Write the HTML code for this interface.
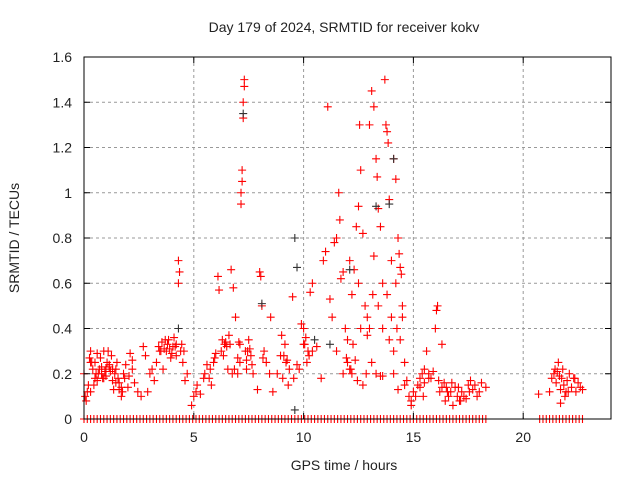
<!DOCTYPE html>
<html><head><meta charset="utf-8"><style>
body{margin:0;background:#fff;font-family:"Liberation Sans",sans-serif}
svg text{font-family:"Liberation Sans",sans-serif;font-size:14px;fill:#222}
</style></head><body>
<svg id="chart" width="640" height="480">
<text x="344" y="32" text-anchor="middle">Day 179 of 2024, SRMTID for receiver kokv</text>
<text x="344" y="470" text-anchor="middle">GPS time / hours</text>
<text transform="translate(19,238) rotate(-90)" text-anchor="middle">SRMTID / TECUs</text>
<g id="grid"></g><g id="marks"></g><g id="axes"></g>
</svg>
<script>
const xTicks=[0,5,10,15,20];
const yTicks=[0,0.2,0.4,0.6,0.8,1,1.2,1.4,1.6];
const yTickLabels=["0","0.2","0.4","0.6","0.8","1","1.2","1.4","1.6"];
const redX=[0,0.05,0.1,0.2,0.25,0.3,0.35,0.4,0.45,0.5,0.55,0.6,0.7,0.75,0.8,0.9,0.95,1.0,1.05,1.1,1.2,1.25,1.3,1.35,1.4,1.5,1.55,1.6,1.7,1.8,1.9,2.0,2.1,2.2,2.3,2.6,2.7,2.8,2.9,3.0,3.1,3.2,3.4,3.5,3.6,3.7,3.8,3.9,4.0,4.1,4.2,4.3,4.3,4.35,4.4,4.5,4.6,4.7,4.9,5.0,5.1,5.3,5.5,5.6,5.7,5.8,5.9,6.0,6.1,6.15,6.3,6.4,6.5,6.6,6.7,6.8,6.9,7.0,7.1,7.15,7.15,7.2,7.2,7.25,7.25,7.3,7.3,7.35,7.4,7.5,7.6,7.7,7.9,8.0,8.05,8.1,8.2,8.3,8.5,8.6,8.8,9.0,9.1,9.2,9.3,9.5,9.7,9.8,10.0,10.1,10.2,10.3,10.4,10.6,10.8,10.9,11.0,11.1,11.2,11.3,11.4,11.5,11.6,11.65,11.7,11.8,11.9,12.0,12.1,12.2,12.3,12.4,12.5,12.55,12.6,12.7,12.8,12.9,13.0,13.1,13.2,13.3,13.35,13.4,13.5,13.6,13.7,13.75,13.8,13.85,13.9,14.0,14.1,14.2,14.3,14.35,14.4,14.5,14.6,14.7,14.8,14.9,15.0,15.2,15.4,15.5,15.6,15.8,16.0,16.05,16.1,16.2,16.4,16.5,16.6,16.8,16.9,17.0,17.2,17.4,17.5,17.7,17.9,18.1,18.3,20.7,21.2,21.4,21.5,21.6,21.7,21.8,21.9,22.0,22.1,22.2,22.4,22.5,22.6,
12.0,12.2,12.5,13.0,13.2,13.4,13.6,13.8,14.0,14.2,14.4,14.5,13.3,12.7,11.5,11.8,13.6,14.1,0.15,0.3,0.6,0.85,1.15,1.45,1.75,2.05,3.55,3.75,3.95,4.15,6.35,6.55,6.75,7.05,7.45,9.05,9.25,10.05,10.25,12.15,12.35,15.3,15.45,15.7,16.3,16.7,17.1,17.6,21.55,21.75,21.95,22.3,14.25,14.45,13.15,12.85,
0.3,0.5,0.65,0.8,0.9,1.0,1.15,1.3,1.45,1.6,1.7,1.85,2.2,2.45,3.3,3.45,3.65,3.85,4.05,4.2,4.45,4.55,5.15,5.45,5.75,5.95,6.25,6.45,6.65,6.85,7.0,7.1,7.4,7.55,7.65,8.15,8.45,8.95,9.15,9.35,9.55,9.9,10.0,10.15,10.4,11.95,12.1,12.25,12.45,12.6,12.9,13.1,13.5,13.9,14.1,14.3,14.6,14.9,15.1,15.3,15.5,15.7,15.9,16.15,16.3,16.45,16.55,16.75,17.05,17.15,17.3,17.55,17.8,18.0,21.3,21.45,21.65,21.85,22.05,22.35,22.7,21.7];
const redY=[0.2,0.1,0.08,0.15,0.27,0.3,0.25,0.22,0.15,0.18,0.2,0.17,0.22,0.27,0.2,0.3,0.21,0.19,0.25,0.3,0.21,0.28,0.22,0.13,0.2,0.25,0.18,0.13,0.1,0.2,0.24,0.14,0.29,0.22,0.16,0.1,0.32,0.28,0.12,0.2,0.22,0.17,0.32,0.3,0.22,0.35,0.33,0.31,0.29,0.36,0.33,0.7,0.6,0.65,0.3,0.25,0.17,0.2,0.06,0.1,0.12,0.11,0.2,0.24,0.18,0.15,0.25,0.29,0.63,0.57,0.35,0.33,0.32,0.37,0.66,0.58,0.45,0.2,0.25,0.95,1.0,1.05,1.1,1.33,1.4,1.47,1.5,0.3,0.22,0.35,0.28,0.2,0.13,0.65,0.63,0.5,0.3,0.25,0.45,0.12,0.2,0.37,0.28,0.25,0.15,0.54,0.24,0.22,0.4,0.36,0.3,0.56,0.6,0.32,0.18,0.7,0.74,1.38,0.53,0.45,0.78,0.8,1.0,0.88,0.62,0.65,0.4,0.25,0.7,0.55,0.66,0.85,0.94,1.3,1.1,0.82,0.5,0.45,1.3,1.45,1.38,1.15,1.07,0.93,0.85,0.6,1.5,1.3,1.27,1.22,0.97,0.7,1.15,1.06,0.8,0.73,0.67,0.45,0.25,0.17,0.1,0.08,0.12,0.15,0.2,0.22,0.3,0.18,0.4,0.48,0.5,0.12,0.16,0.14,0.1,0.06,0.14,0.1,0.12,0.09,0.15,0.13,0.1,0.16,0.14,0.11,0.12,0.2,0.16,0.25,0.13,0.22,0.1,0.17,0.2,0.14,0.12,0.16,0.14,
0.35,0.2,0.6,0.4,0.72,0.5,0.4,0.55,0.45,0.6,0.35,0.5,0.2,0.15,0.3,0.2,0.19,0.3,0.12,0.25,0.29,0.18,0.23,0.16,0.12,0.19,0.34,0.3,0.27,0.32,0.28,0.22,0.2,0.34,0.3,0.18,0.26,0.33,0.28,0.22,0.26,0.14,0.1,0.18,0.33,0.12,0.08,0.17,0.21,0.18,0.12,0.18,0.4,0.64,0.55,0.2,
0.12,0.25,0.2,0.23,0.18,0.22,0.24,0.17,0.22,0.16,0.14,0.18,0.26,0.12,0.25,0.3,0.31,0.35,0.32,0.28,0.33,0.3,0.15,0.18,0.22,0.27,0.3,0.34,0.33,0.22,0.27,0.33,0.26,0.31,0.24,0.27,0.2,0.28,0.33,0.22,0.18,0.42,0.33,0.25,0.3,0.27,0.22,0.33,0.17,0.4,0.37,0.25,0.19,0.35,0.2,0.13,0.15,0.06,0.1,0.18,0.16,0.2,0.21,0.17,0.14,0.08,0.12,0.16,0.14,0.08,0.1,0.12,0.15,0.12,0.18,0.22,0.19,0.15,0.12,0.18,0.13,0.07];
const blackX=[7.25,9.6,9.6,11.2,13.3,14.1,9.7,4.3,12.1,13.9,8.1,10.5];
const blackY=[1.35,0.8,0.04,0.33,0.94,1.15,0.67,0.4,0.66,0.95,0.51,0.35];
const zeroX=[0,0.15,0.3,0.45,0.6,0.75,0.9,1.05,1.2,1.35,1.5,1.65,1.8,1.95,2.1,2.25,2.4,2.55,2.7,2.85,3.0,3.15,3.3,3.45,3.6,3.75,3.9,4.05,4.2,4.35,4.5,4.65,4.8,4.95,5.1,5.25,5.4,5.55,5.7,5.85,6.0,6.15,6.3,6.45,6.6,6.75,6.9,7.05,7.2,7.35,7.5,7.65,7.8,7.95,8.1,8.25,8.4,8.55,8.7,8.85,9.0,9.15,9.3,9.45,9.6,9.75,9.9,10.05,10.2,10.35,10.5,10.65,10.8,10.95,11.1,11.25,11.4,11.55,11.7,11.85,12.0,12.15,12.3,12.45,12.6,12.75,12.9,13.05,13.2,13.35,13.5,13.65,13.8,13.95,14.1,14.25,14.4,14.55,14.7,14.85,15.0,15.15,15.3,15.45,15.6,15.75,15.9,16.05,16.2,16.35,16.5,16.65,16.8,16.95,17.1,17.25,17.4,17.55,17.7,17.85,18.0,18.15,18.3,20.75,20.9,21.05,21.2,21.35,21.5,21.65,21.8,21.95,22.1,22.25,22.4,22.55,22.7];
const X=h=>84+h*21.96, Y=v=>419-v*226.25;
const NS="http://www.w3.org/2000/svg";
const grid=document.getElementById('grid'),marks=document.getElementById('marks'),axes=document.getElementById('axes');
function mk(tag,attrs,parent){const e=document.createElementNS(NS,tag);for(const k in attrs)e.setAttribute(k,attrs[k]);parent.appendChild(e);return e;}
const frame=mk('rect',{x:84,y:57,width:527,height:362,fill:'none',stroke:'#000','stroke-width':1},axes);


yTicks.forEach((v,i)=>{
  const g=mk('line',{x1:84,x2:611,y1:Y(v),y2:Y(v),stroke:'#999','stroke-dasharray':'3,3'},grid);
  
  
  const t=mk('text',{x:72,y:Y(v)+5,'text-anchor':'end'},axes);t.textContent=yTickLabels[i];
  
  
  mk('line',{x1:84,x2:90,y1:Y(v),y2:Y(v),stroke:'#000'},axes);
  mk('line',{x1:605,x2:611,y1:Y(v),y2:Y(v),stroke:'#000'},axes);
});
xTicks.forEach(v=>{
  const g=mk('line',{x1:X(v),x2:X(v),y1:57,y2:419,stroke:'#999','stroke-dasharray':'3,3'},grid);
  
  
  const t=mk('text',{x:X(v),y:442,'text-anchor':'middle'},axes);t.textContent=String(v);
  
  
  mk('line',{x1:X(v),x2:X(v),y1:413,y2:419,stroke:'#000'},axes);
  mk('line',{x1:X(v),x2:X(v),y1:57,y2:63,stroke:'#000'},axes);
});
function plus(x,y,c){
  const p=mk('path',{d:`M${x-4},${y}h8M${x},${y-4}v8`,stroke:c,'stroke-width':1.1,fill:'none'},marks);
  
  
}
zeroX.forEach(h=>plus(X(h),419,'#f00'));
redX.forEach((h,i)=>plus(X(h),Y(redY[i]),'#f00'));
blackX.forEach((h,i)=>plus(X(h),Y(blackY[i]),'#333'));
</script>
</body></html>
